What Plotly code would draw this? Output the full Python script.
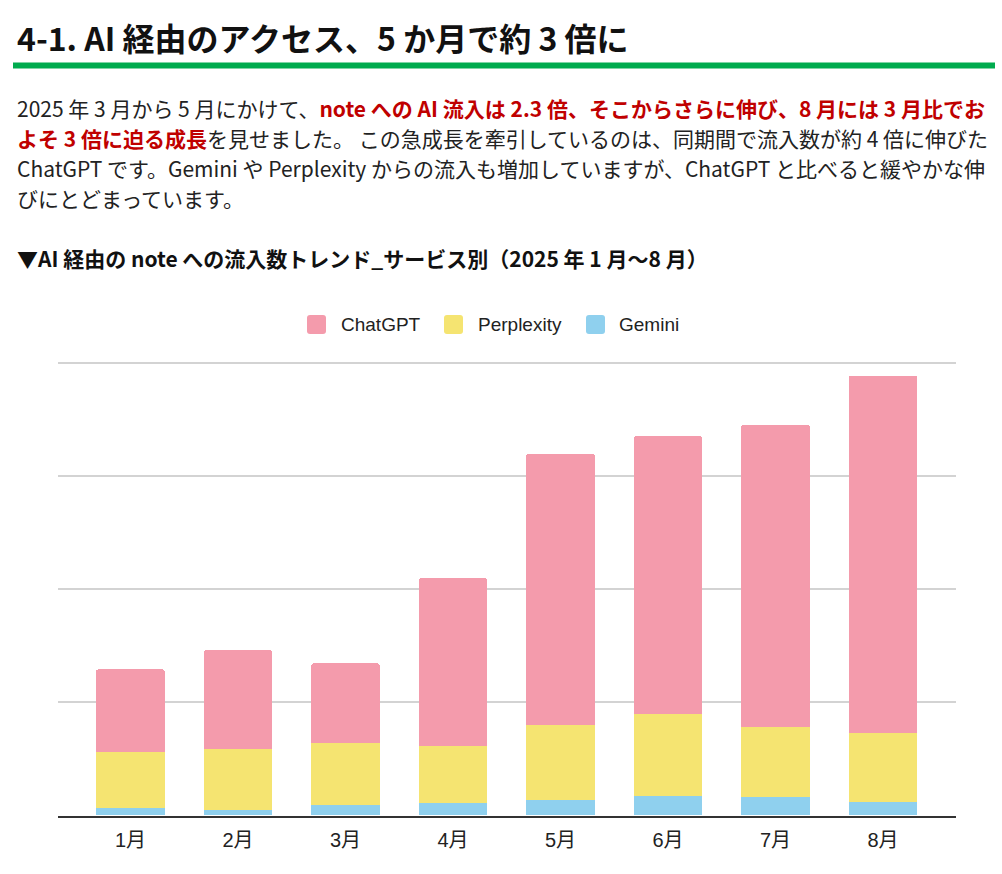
import plotly.graph_objects as go

# ---- data (y units: one gridline step = 100) ----
months = ["1月", "2月", "3月", "4月", "5月", "6月", "7月", "8月"]
gemini = [6.4, 4.9, 9.0, 10.8, 13.4, 17.5, 16.1, 11.9]
perplexity = [49.5, 53.6, 55.1, 50.7, 66.4, 72.2, 62.1, 60.8]
chatgpt = [73.4, 87.6, 70.5, 148.2, 240.1, 245.6, 267.1, 316.2]
grid_ticks = [0, 100, 200, 300, 400]

series_names = ["Gemini", "Perplexity", "ChatGPT"]
series_colors = ["#8fd0ee", "#f5e471", "#f49bac"]
legend_names = ["ChatGPT", "Perplexity", "Gemini"]
legend_colors = ["#f49bac", "#f5e471", "#8fd0ee"]

title_text = "4-1. AI 経由のアクセス、5 か月で約 3 倍に"
para_lines = [
    "2025 年 3 月から 5 月にかけて、<span style='color:#c00000'><b>note への AI 流入は 2.3 倍、そこからさらに伸び、8 月には 3 月比でお</b></span>",
    "<span style='color:#c00000'><b>よそ 3 倍に迫る成長</b></span>を見せました。 この急成長を牽引しているのは、同期間で流入数が約 4 倍に伸びた",
    "ChatGPT です。Gemini や Perplexity からの流入も増加していますが、ChatGPT と比べると緩やかな伸",
    "びにとどまっています。",
]
subtitle_text = "▼AI 経由の note への流入数トレンド_サービス別（2025 年 1 月～8 月）"

W, H = 1002, 874
def px(x):
    return x / W
def py(y):
    return 1 - y / H

JP = "Noto Sans CJK JP"
LAT = "Liberation Sans, Arial, " + JP

Y_TOP = 410
PLOT_BOTTOM = 815.5
UNIT_PX = (815.5 - 363) / 400
PLOT_TOP = PLOT_BOTTOM - Y_TOP * UNIT_PX

fig = go.Figure()
for name, vals, col in zip(series_names, [gemini, perplexity, chatgpt], series_colors):
    fig.add_trace(go.Bar(x=months, y=vals, name=name, marker=dict(color=col, line=dict(width=0)),
                         hoverinfo="x+y+name", showlegend=False))

annotations = []
annotations.append(dict(text=f"<b>{title_text}</b>", x=px(15), y=py(37), xref="paper", yref="paper",
                        xanchor="left", yanchor="middle", showarrow=False,
                        font=dict(family=JP, size=32, color="#111111")))
for i, line in enumerate(para_lines):
    annotations.append(dict(text=line, x=px(15), y=py(108.5 + 30 * i), xref="paper", yref="paper",
                            xanchor="left", yanchor="middle", showarrow=False,
                            font=dict(family=JP, size=21, color="#222222")))
annotations.append(dict(text=f"<b>{subtitle_text}</b>", x=px(15), y=py(258), xref="paper", yref="paper",
                        xanchor="left", yanchor="middle", showarrow=False,
                        font=dict(family=JP, size=21, color="#111111")))

shapes = [dict(type="rect", xref="paper", yref="paper", x0=px(13), x1=px(995), y0=py(68.5), y1=py(62.5),
               fillcolor="#00ab4e", line=dict(width=0), layer="above")]

# legend drawn as swatches + labels
sw_x = [307, 444, 586]
tx_x = [339, 476, 617]
leg_y = 324.5
for name, col, sx, tx in zip(legend_names, legend_colors, sw_x, tx_x):
    x0, x1 = sx, sx + 19
    y0, y1 = leg_y - 9.5, leg_y + 9.5
    r = 3
    path = (f"M {px(x0 + r)},{py(y0)} L {px(x1 - r)},{py(y0)} Q {px(x1)},{py(y0)} {px(x1)},{py(y0 + r)} "
            f"L {px(x1)},{py(y1 - r)} Q {px(x1)},{py(y1)} {px(x1 - r)},{py(y1)} "
            f"L {px(x0 + r)},{py(y1)} Q {px(x0)},{py(y1)} {px(x0)},{py(y1 - r)} "
            f"L {px(x0)},{py(y0 + r)} Q {px(x0)},{py(y0)} {px(x0 + r)},{py(y0)} Z")
    shapes.append(dict(type="path", xref="paper", yref="paper", path=path, fillcolor=col,
                       line=dict(width=0)))
    annotations.append(dict(text=name, x=px(tx), y=py(leg_y), xref="paper", yref="paper",
                            xanchor="left", yanchor="middle", showarrow=False,
                            font=dict(family=LAT, size=19, color="#222222")))

fig.update_layout(
    width=W, height=H,
    margin=dict(l=0, r=0, t=0, b=0),
    paper_bgcolor="white", plot_bgcolor="white",
    barmode="stack", bargap=0.36, barcornerradius=3,
    showlegend=False,
    xaxis=dict(domain=[px(58), px(955.5)], range=[-0.674, 7.674], showline=True, linecolor="#333333",
               linewidth=2, ticks="outside", ticklen=5, tickcolor="rgba(0,0,0,0)",
               tickfont=dict(family=LAT, size=20, color="#222222"), showgrid=False),
    yaxis=dict(domain=[py(PLOT_BOTTOM), py(PLOT_TOP)], range=[0, Y_TOP], tickvals=grid_ticks,
               showticklabels=False, showgrid=True, gridcolor="#d3d3d3", gridwidth=1.5,
               zeroline=False, fixedrange=True),
    annotations=annotations,
    shapes=shapes,
)

fig.write_html("out.html", config={"displayModeBar": False},
               post_script="document.body.style.margin='0';")
